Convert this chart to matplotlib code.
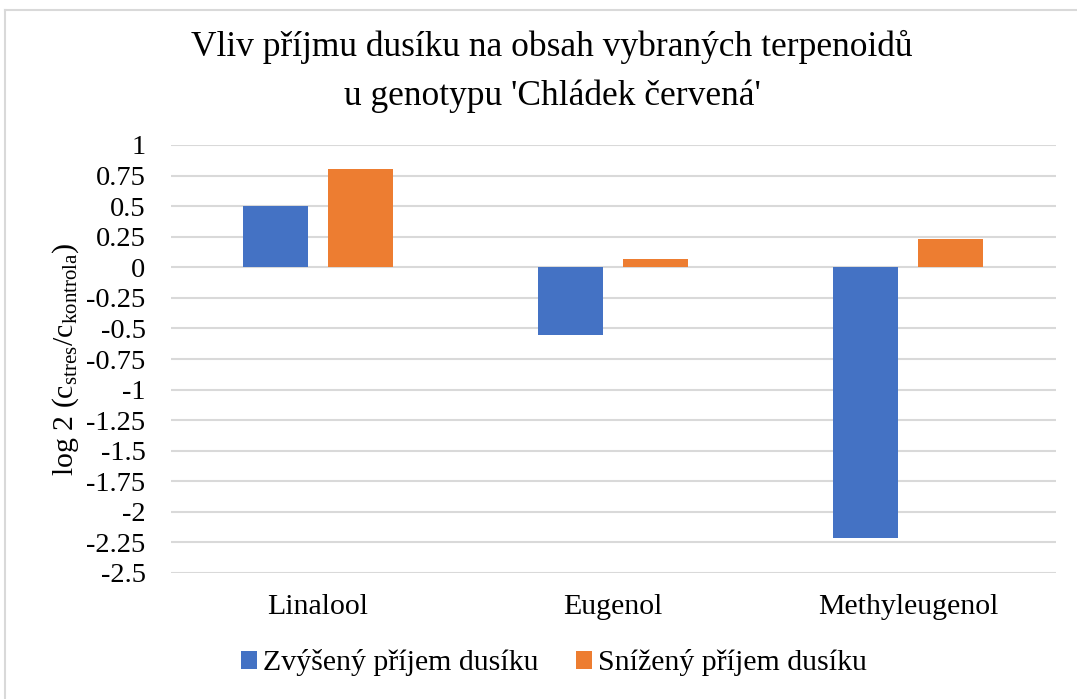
import numpy as np
import matplotlib
matplotlib.use('Agg')
import matplotlib.pyplot as plt
from matplotlib.lines import Line2D

plt.rcParams['font.family'] = ['Liberation Serif', 'DejaVu Serif']
plt.rcParams['mathtext.fontset'] = 'custom'
plt.rcParams['mathtext.rm'] = 'Liberation Serif'
plt.rcParams['mathtext.it'] = 'Liberation Serif:italic'

# data
latky = ['Linalool', 'Eugenol', 'Methyleugenol']
zvyseny = [0.50, -0.55, -2.21]
snizeny = [0.80, 0.065, 0.23]
serie = ['Zvýšený příjem dusíku', 'Snížený příjem dusíku']
yticks = [1, 0.75, 0.5, 0.25, 0, -0.25, -0.5, -0.75, -1, -1.25, -1.5, -1.75, -2, -2.25, -2.5]

fig = plt.figure(figsize=(10.77, 6.99), dpi=100)
ax = fig.add_axes([170.5 / 1077, 1 - 573 / 699, (1056 - 170.5) / 1077, (573 - 145) / 699])

x = np.arange(len(latky))
w = 0.22
ax.bar(x - 0.144, zvyseny, w, color='#4472c4', zorder=3, label=serie[0])
ax.bar(x + 0.144, snizeny, w, color='#ed7d31', zorder=3, label=serie[1])

ax.set_xlim(-0.5, 2.5)
ax.set_ylim(-2.5, 1)
ax.set_yticks(yticks)
ax.set_yticklabels([('%g' % t) for t in yticks], fontsize=20.5)
ax.set_xticks(x)
ax.set_xticklabels(latky, fontsize=21.5)
ax.tick_params(length=0)
ax.tick_params(axis='y', pad=18)
ax.tick_params(axis='x', pad=15)
ax.grid(axis='y', color='#d9d9d9', linewidth=1.5, zorder=0)
for s in ax.spines.values():
    s.set_visible(False)

ax.set_ylabel(r'log 2 (c$_{\mathrm{stres}}$/c$_{\mathrm{kontrola}}$)', fontsize=21.5, labelpad=4)

# nadpis
fig.text(552 / 1077, 1 - 47 / 699, 'Vliv příjmu dusíku na obsah vybraných terpenoidů',
         fontsize=25.5, ha='center', va='center')
fig.text(552 / 1077, 1 - 96 / 699, "u genotypu 'Chládek červená'",
         fontsize=25.5, ha='center', va='center')

leg = fig.legend(loc='center', bbox_to_anchor=(554 / 1077, 1 - 663 / 699), ncol=2, frameon=False,
                 fontsize=21.5, handlelength=0.55, handleheight=0.55, handletextpad=0.2,
                 columnspacing=1.25)

# okraj grafu
fig.add_artist(Line2D([5 / 1077, 5 / 1077], [0, 1 - 10 / 699], transform=fig.transFigure, color='#d9d9d9', lw=1.5))
fig.add_artist(Line2D([5 / 1077, 1], [1 - 10 / 699, 1 - 10 / 699], transform=fig.transFigure, color='#d9d9d9', lw=1.5))

fig.savefig('out.png', dpi=100)
